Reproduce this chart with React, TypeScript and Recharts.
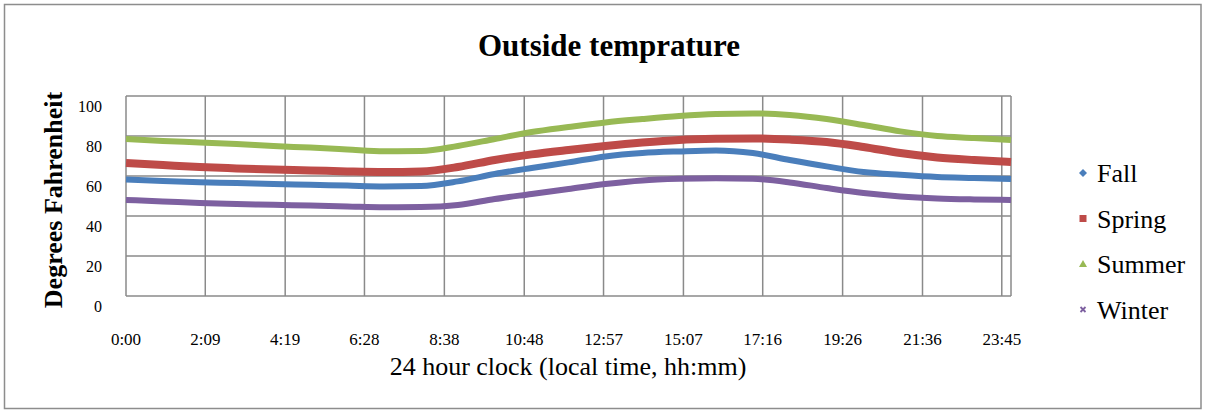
import React from "react";
import { LineChart, Line, XAxis, YAxis, CartesianGrid } from "recharts";

const HOURS = [0, 1, 2, 3, 4, 5, 6, 7, 8, 9, 10, 11, 12, 13, 14, 15, 16, 17, 18, 19, 20, 21, 22, 23, 24];

const FALL = [58.3, 57.5, 56.9, 56.5, 56, 55.6, 55.2, 54.8, 55, 57.3, 61, 64, 66.8, 69.8, 71.5, 72.3, 72.8, 71.5, 68, 64.8, 62, 60.6, 59.5, 59, 58.5];
const SPRING = [66.5, 65.5, 64.5, 63.8, 63.2, 62.8, 62.3, 62, 62.3, 64.5, 68, 70.8, 73, 75, 76.7, 78, 78.6, 78.8, 78.2, 77, 74.5, 71.5, 69.3, 68, 67];
const SUMMER = [78.5, 77.5, 76.8, 76, 75, 74.2, 73.3, 72.4, 72.5, 75, 78.5, 82, 84.5, 86.8, 88.5, 90, 91, 91.3, 90.5, 88.5, 85.5, 82.3, 80, 79, 78];
const WINTER = [48, 47.3, 46.5, 46, 45.6, 45.2, 44.8, 44.4, 44.5, 45.5, 48.5, 51, 53.5, 56, 57.8, 58.6, 58.9, 58.6, 56.8, 54, 51.5, 49.8, 48.8, 48.3, 48];

const SERIES_NAMES = ["Fall", "Spring", "Summer", "Winter"];
const SERIES_COLORS = ["#4A7EBB", "#BE4B48", "#98B954", "#7D60A0"];

const X_TICK_LABELS = ["0:00", "2:09", "4:19", "6:28", "8:38", "10:48", "12:57", "15:07", "17:16", "19:26", "21:36", "23:45"];
const Y_TICKS = [0, 20, 40, 60, 80, 100];

const TITLE = "Outside temprature";
const X_TITLE = "24 hour clock (local time, hh:mm)";
const Y_TITLE = "Degrees Fahrenheit";

const FONT = "'Liberation Serif', 'Times New Roman', serif";

const toMinutes = (s: string) => {
  const [h, m] = s.split(":").map(Number);
  return h * 60 + m;
};
const X_TICKS = X_TICK_LABELS.map(toMinutes);

const SERIES_VALUES = [FALL, SPRING, SUMMER, WINTER];
const data = HOURS.map((h, i) => {
  const row: Record<string, number> = { minute: h * 60 };
  SERIES_NAMES.forEach((n, k) => {
    row[n] = SERIES_VALUES[k][i];
  });
  return row;
});

const XTick = (p: any) => {
  const idx = X_TICKS.indexOf(p.payload.value);
  return (
    <text x={p.x} y={p.y} dy={49} textAnchor="middle" fontFamily={FONT} fontSize={17} fill="#000">
      {idx >= 0 ? X_TICK_LABELS[idx] : ""}
    </text>
  );
};

const YTick = (p: any) => (
  <text x={p.x} y={p.y} dy={16} textAnchor="end" fontFamily={FONT} fontSize={16} fill="#000">
    {p.payload.value}
  </text>
);

const Marker = ({ kind, cx, cy, color }: { kind: number; cx: number; cy: number; color: string }) => {
  if (kind === 0) {
    return <polygon points={`${cx},${cy - 4} ${cx + 4},${cy} ${cx},${cy + 4} ${cx - 4},${cy}`} fill={color} />;
  }
  if (kind === 1) {
    return <rect x={cx - 3.5} y={cy - 3.5} width={7} height={7} fill={color} />;
  }
  if (kind === 2) {
    return <polygon points={`${cx},${cy - 4} ${cx + 4},${cy + 3} ${cx - 4},${cy + 3}`} fill={color} />;
  }
  return (
    <g stroke={color} strokeWidth={1.8}>
      <line x1={cx - 2.5} y1={cy - 2.5} x2={cx + 2.5} y2={cy + 2.5} />
      <line x1={cx - 2.5} y1={cy + 2.5} x2={cx + 2.5} y2={cy - 2.5} />
    </g>
  );
};

const LEGEND_TOP = 173;
const LEGEND_STEP = 45.5;

export default function App() {
  return (
    <div style={{ position: "absolute", left: 0, top: 0, width: 1206, height: 411, background: "#fff" }}>
      <LineChart
        width={1206}
        height={411}
        data={data}
        margin={{ top: 96, right: 195, bottom: 55, left: 66 }}
      >
        <CartesianGrid stroke="#8a8a8a" strokeWidth={1.5} />
        <XAxis
          dataKey="minute"
          type="number"
          domain={[0, 1440]}
          ticks={X_TICKS}
          interval={0}
          height={60}
          axisLine={false}
          tickLine={false}
          tickSize={0}
          tickMargin={0}
          tick={<XTick />}
        />
        <YAxis
          type="number"
          domain={[0, 100]}
          ticks={Y_TICKS}
          interval={0}
          width={60}
          axisLine={false}
          tickLine={false}
          tickSize={0}
          tickMargin={24}
          tick={<YTick />}
        />
        {SERIES_NAMES.map((name, k) => (
          <Line
            key={name}
            dataKey={name}
            type="monotone"
            stroke={SERIES_COLORS[k]}
            strokeWidth={k === 1 ? 8 : 6}
            dot={false}
            activeDot={false}
            isAnimationActive={false}
          />
        ))}
      </LineChart>
      <svg
        width={1206}
        height={411}
        style={{ position: "absolute", left: 0, top: 0, pointerEvents: "none" }}
      >
        <rect x={4.5} y={4.5} width={1196.5} height={404} fill="none" stroke="#8d8d8d" strokeWidth={1.5} />
        <text x={609} y={56} textAnchor="middle" fontFamily={FONT} fontWeight="bold" fontSize={31} fill="#000">
          {TITLE}
        </text>
        <text x={568} y={375} textAnchor="middle" fontFamily={FONT} fontSize={26} fill="#000">
          {X_TITLE}
        </text>
        <text
          x={0}
          y={0}
          transform="translate(62,200) rotate(-90)"
          textAnchor="middle"
          fontFamily={FONT}
          fontWeight="bold"
          fontSize={26}
          fill="#000"
        >
          {Y_TITLE}
        </text>
        {SERIES_NAMES.map((name, k) => {
          const cy = LEGEND_TOP + k * LEGEND_STEP;
          return (
            <g key={name}>
              <Marker kind={k} cx={1083} cy={cy} color={SERIES_COLORS[k]} />
              <text x={1097} y={cy + 9} fontFamily={FONT} fontSize={26} fill="#000">
                {name}
              </text>
            </g>
          );
        })}
      </svg>
    </div>
  );
}
